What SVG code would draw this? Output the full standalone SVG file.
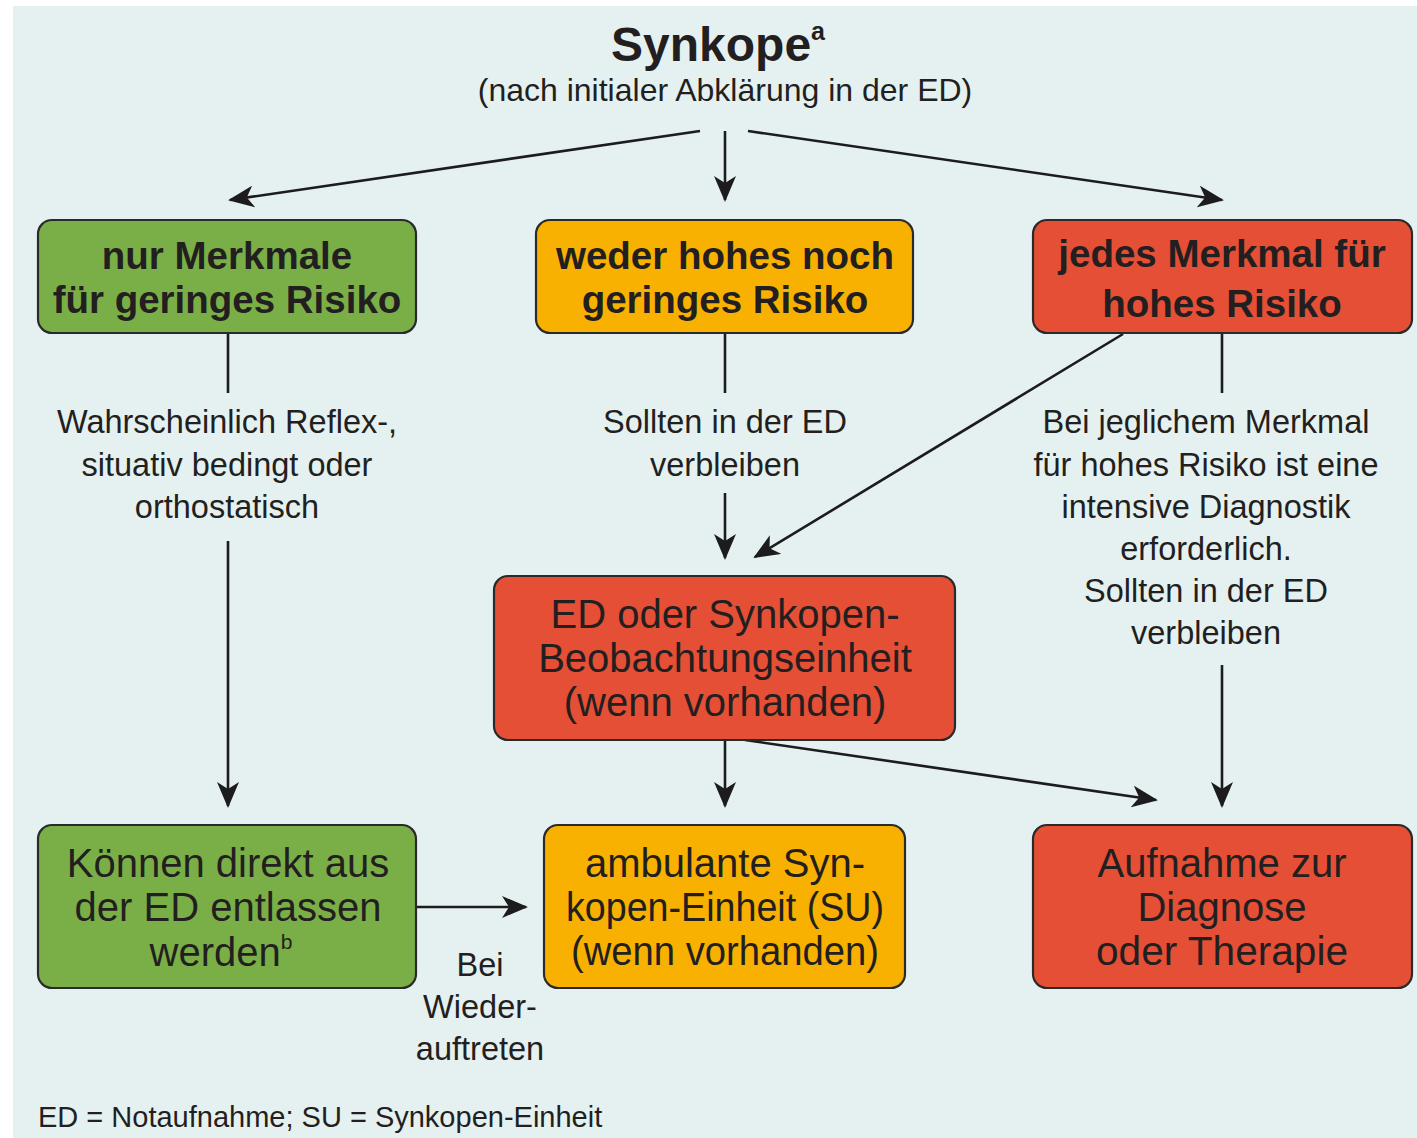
<svg xmlns="http://www.w3.org/2000/svg" width="1417" height="1138" viewBox="0 0 1417 1138">
  <style>
    .t { font-family: "Liberation Sans", Arial, sans-serif; fill: #231f20; text-anchor: middle; }
    .title { font-size: 48px; font-weight: bold; }
    .sub { font-size: 32px; }
    .lbl { font-size: 32.5px; }
    .hd { font-size: 38.5px; font-weight: bold; }
    .bx { font-size: 40px; }
    .foot { font-size: 29px; text-anchor: start; }
    .node { stroke: #2a2a2a; stroke-width: 2.2; }
    .green { fill: #7aaf47; }
    .orange { fill: #f8b100; }
    .red { fill: #e54f35; }
    .con { stroke: #1c1b1d; stroke-width: 2.6; fill: none; }
  </style>
  <defs>
    <marker id="ah" viewBox="0 0 26 22" refX="24" refY="11" markerWidth="26" markerHeight="22" markerUnits="userSpaceOnUse" orient="auto">
      <path d="M0,0 L26,11 L0,22 L7,11 Z" fill="#1c1b1d"/>
    </marker>
  </defs>

  <!-- page background -->
  <rect x="0" y="0" width="1417" height="1138" fill="#ffffff"/>
  <rect x="13" y="6" width="1404" height="1132" fill="#e5f1f1"/>

  <!-- heading -->
  <g id="title">
    <text class="t title" x="718" y="61">Synkope<tspan font-size="25" dy="-21">a</tspan></text>
    <text class="t sub" x="725" y="101">(nach initialer Abklärung in der ED)</text>
  </g>

  <!-- connectors -->
  <g id="connectors">
    <line class="con" x1="700" y1="131" x2="230" y2="200" marker-end="url(#ah)"/>
    <line class="con" x1="725" y1="131" x2="725" y2="200" marker-end="url(#ah)"/>
    <line class="con" x1="748" y1="131" x2="1222" y2="200" marker-end="url(#ah)"/>

    <line class="con" x1="228" y1="333" x2="228" y2="393"/>
    <line class="con" x1="228" y1="541" x2="228" y2="806" marker-end="url(#ah)"/>

    <line class="con" x1="725" y1="333" x2="725" y2="393"/>
    <line class="con" x1="725" y1="493" x2="725" y2="558" marker-end="url(#ah)"/>

    <line class="con" x1="1222" y1="333" x2="1222" y2="393"/>
    <line class="con" x1="1222" y1="665" x2="1222" y2="806" marker-end="url(#ah)"/>

    <line class="con" x1="1123" y1="334" x2="755" y2="557" marker-end="url(#ah)"/>

    <line class="con" x1="725" y1="740" x2="725" y2="806" marker-end="url(#ah)"/>
    <line class="con" x1="745" y1="740" x2="1156" y2="800" marker-end="url(#ah)"/>

    <line class="con" x1="416" y1="907" x2="526" y2="907" marker-end="url(#ah)"/>
  </g>

  <!-- connector labels -->
  <g id="labels">
    <text class="t lbl" x="227" y="433">Wahrscheinlich Reflex-,</text>
    <text class="t lbl" x="227" y="476">situativ bedingt oder</text>
    <text class="t lbl" x="227" y="518">orthostatisch</text>

    <text class="t lbl" x="725" y="433">Sollten in der ED</text>
    <text class="t lbl" x="725" y="476">verbleiben</text>

    <text class="t lbl" x="1206" y="433">Bei jeglichem Merkmal</text>
    <text class="t lbl" x="1206" y="476">für hohes Risiko ist eine</text>
    <text class="t lbl" x="1206" y="518">intensive Diagnostik</text>
    <text class="t lbl" x="1206" y="560">erforderlich.</text>
    <text class="t lbl" x="1206" y="602">Sollten in der ED</text>
    <text class="t lbl" x="1206" y="644">verbleiben</text>

    <text class="t lbl" x="480" y="976">Bei</text>
    <text class="t lbl" x="480" y="1018">Wieder-</text>
    <text class="t lbl" x="480" y="1060">auftreten</text>
  </g>

  <!-- nodes -->
  <g id="low-risk">
    <rect class="node green" x="38" y="220" width="378" height="113" rx="14"/>
    <text class="t hd" x="227" y="269">nur Merkmale</text>
    <text class="t hd" x="227" y="313">für geringes Risiko</text>
  </g>
  <g id="medium-risk">
    <rect class="node orange" x="536" y="220" width="377" height="113" rx="14"/>
    <text class="t hd" x="725" y="269">weder hohes noch</text>
    <text class="t hd" x="725" y="313">geringes Risiko</text>
  </g>
  <g id="high-risk">
    <rect class="node red" x="1033" y="220" width="379" height="113" rx="14"/>
    <text class="t hd" x="1222" y="267">jedes Merkmal für</text>
    <text class="t hd" x="1222" y="317">hohes Risiko</text>
  </g>
  <g id="observation-unit">
    <rect class="node red" x="494" y="576" width="461" height="164" rx="14"/>
    <text class="t bx" x="725" y="628">ED oder Synkopen-</text>
    <text class="t bx" x="725" y="672">Beobachtungseinheit</text>
    <text class="t bx" x="725" y="716">(wenn vorhanden)</text>
  </g>
  <g id="discharge">
    <rect class="node green" x="38" y="825" width="378" height="163" rx="14"/>
    <text class="t bx" x="228" y="877">Können direkt aus</text>
    <text class="t bx" x="228" y="921">der ED entlassen</text>
    <text class="t bx" x="221" y="966">werden<tspan font-size="21" dy="-17">b</tspan></text>
  </g>
  <g id="syncope-unit">
    <rect class="node orange" x="544" y="825" width="361" height="163" rx="14"/>
    <text class="t bx" x="725" y="877">ambulante Syn-</text>
    <text class="t bx" x="725" y="921" textLength="318" lengthAdjust="spacingAndGlyphs">kopen-Einheit (SU)</text>
    <text class="t bx" x="725" y="965" textLength="308" lengthAdjust="spacingAndGlyphs">(wenn vorhanden)</text>
  </g>
  <g id="admission">
    <rect class="node red" x="1033" y="825" width="379" height="163" rx="14"/>
    <text class="t bx" x="1222" y="877">Aufnahme zur</text>
    <text class="t bx" x="1222" y="921">Diagnose</text>
    <text class="t bx" x="1222" y="965" textLength="252" lengthAdjust="spacingAndGlyphs">oder Therapie</text>
  </g>

  <!-- footnote -->
  <text class="t foot" x="38" y="1127">ED = Notaufnahme; SU = Synkopen-Einheit</text>
</svg>
